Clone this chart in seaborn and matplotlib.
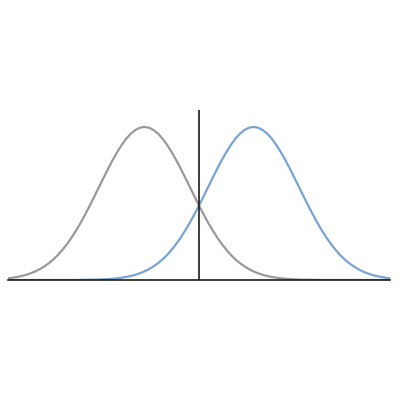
import pandas as pd
import matplotlib
matplotlib.use("Agg")
import matplotlib.pyplot as plt
import seaborn as sns

x = [-4.2, -4.1, -4.0, -3.9, -3.8, -3.7, -3.6, -3.5, -3.4, -3.3,
     -3.2, -3.1, -3.0, -2.9, -2.8, -2.7, -2.6, -2.5, -2.4, -2.3,
     -2.2, -2.1, -2.0, -1.9, -1.8, -1.7, -1.6, -1.5, -1.4, -1.3,
     -1.2, -1.1, -1.0, -0.9, -0.8, -0.7, -0.6, -0.5, -0.4, -0.3,
     -0.2, -0.1, 0.0, 0.1, 0.2, 0.3, 0.4, 0.5, 0.6, 0.7,
     0.8, 0.9, 1.0, 1.1, 1.2, 1.3, 1.4, 1.5, 1.6, 1.7,
     1.8, 1.9, 2.0, 2.1, 2.2, 2.3, 2.4, 2.5, 2.6, 2.7,
     2.8, 2.9, 3.0, 3.1, 3.2, 3.3, 3.4, 3.5, 3.6, 3.7,
     3.8, 3.9, 4.0, 4.1, 4.2]
gray_curve = [0.011, 0.015, 0.020, 0.026, 0.034, 0.044, 0.056, 0.071, 0.089, 0.110,
              0.135, 0.164, 0.198, 0.236, 0.278, 0.325, 0.375, 0.430, 0.487, 0.546,
              0.607, 0.667, 0.726, 0.783, 0.835, 0.882, 0.923, 0.956, 0.980, 0.995,
              1.000, 0.995, 0.980, 0.956, 0.923, 0.882, 0.835, 0.783, 0.726, 0.667,
              0.607, 0.546, 0.487, 0.430, 0.375, 0.325, 0.278, 0.236, 0.198, 0.164,
              0.135, 0.110, 0.089, 0.071, 0.056, 0.044, 0.034, 0.026, 0.020, 0.015,
              0.011, 0.008, 0.006, 0.004, 0.003, 0.002, 0.002, 0.001, 0.001, 0.0,
              0.0, 0.0, 0.0, 0.0, 0.0, 0.0, 0.0, 0.0, 0.0, 0.0,
              0.0, 0.0, 0.0, 0.0, 0.0]
blue_curve = [0.0, 0.0, 0.0, 0.0, 0.0, 0.0, 0.0, 0.0, 0.0, 0.0,
              0.0, 0.0, 0.0, 0.0, 0.0, 0.0, 0.001, 0.001, 0.002, 0.002,
              0.003, 0.004, 0.006, 0.008, 0.011, 0.015, 0.020, 0.026, 0.034, 0.044,
              0.056, 0.071, 0.089, 0.110, 0.135, 0.164, 0.198, 0.236, 0.278, 0.325,
              0.375, 0.430, 0.487, 0.546, 0.607, 0.667, 0.726, 0.783, 0.835, 0.882,
              0.923, 0.956, 0.980, 0.995, 1.000, 0.995, 0.980, 0.956, 0.923, 0.882,
              0.835, 0.783, 0.726, 0.667, 0.607, 0.546, 0.487, 0.430, 0.375, 0.325,
              0.278, 0.236, 0.198, 0.164, 0.135, 0.110, 0.089, 0.071, 0.056, 0.044,
              0.034, 0.026, 0.020, 0.015, 0.011]
divider_x = 0.0
divider_top = 1.11

df = pd.DataFrame({"x": x, "gray": gray_curve, "blue": blue_curve})

sns.set_style("white")
fig = plt.figure(figsize=(4, 4), dpi=100)
ax = fig.add_axes([0.02, 0.3, 0.955, 0.45])

sns.lineplot(data=df, x="x", y="gray", color="#999999", linewidth=1.6, ax=ax)
sns.lineplot(data=df, x="x", y="blue", color="#79a3d3", linewidth=1.6, ax=ax)
ax.vlines(divider_x, 0, divider_top, color="#1a1a1a", linewidth=1.2)

ax.set_xlim(-4.2, 4.2)
ax.set_ylim(0, 1.176)
ax.set_xlabel("")
ax.set_ylabel("")
ax.set_xticks([])
ax.set_yticks([])
for side in ["top", "left", "right"]:
    ax.spines[side].set_visible(False)
ax.spines["bottom"].set_color("#1a1a1a")
ax.spines["bottom"].set_linewidth(1.2)

fig.savefig("out.png", dpi=100)
